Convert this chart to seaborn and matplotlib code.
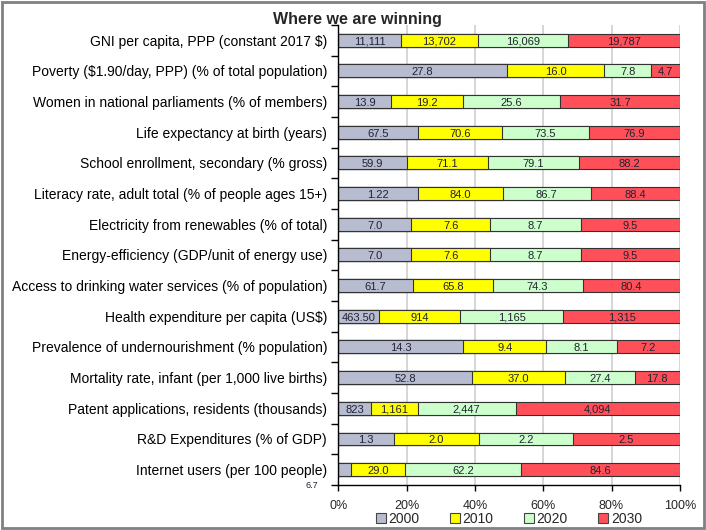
# Import required libraries
import pandas as pd
import numpy as np
import matplotlib.pyplot as plt
import seaborn as sns
from matplotlib.patches import Patch, Rectangle

# ---------------------------------------------------
# Data
# ---------------------------------------------------
categories = [
    "GNI per capita, PPP (constant 2017 $)",
    "Poverty ($1.90/day, PPP) (% of total population)",
    "Women in national parliaments (% of members)",
    "Life expectancy at birth (years)",
    "School enrollment, secondary (% gross)",
    "Literacy rate, adult total (% of people ages 15+)",
    "Electricity from renewables (% of total)",
    "Energy-efficiency (GDP/unit of energy use)",
    "Access to drinking water services (% of population)",
    "Health expenditure per capita (US$)",
    "Prevalence of undernourishment (% population)",
    "Mortality rate, infant (per 1,000 live births)",
    "Patent applications, residents (thousands)",
    "R&D Expenditures (% of GDP)",
    "Internet users (per 100 people)",
]
years = ["2000", "2010", "2020", "2030"]

v2000 = [11111, 27.8, 13.9, 67.5, 59.9, 79.2, 7.0, 7.0, 61.7, 463.5, 14.3, 52.8, 823, 1.3, 6.7]
v2010 = [13702, 16.0, 19.2, 70.6, 71.1, 84.0, 7.6, 7.6, 65.8, 914, 9.4, 37.0, 1161, 2.0, 29.0]
v2020 = [16069, 7.8, 25.6, 73.5, 79.1, 86.7, 8.7, 8.7, 74.3, 1165, 8.1, 27.4, 2447, 2.2, 62.2]
v2030 = [19787, 4.7, 31.7, 76.9, 88.2, 88.4, 9.5, 9.5, 80.4, 1315, 7.2, 17.8, 4094, 2.5, 84.6]

# labels as printed on the bars
l2000 = ["11,111", "27.8", "13.9", "67.5", "59.9", "1.22", "7.0", "7.0", "61.7", "463.50",
         "14.3", "52.8", "823", "1.3", "6.7"]
l2010 = ["13,702", "16.0", "19.2", "70.6", "71.1", "84.0", "7.6", "7.6", "65.8", "914",
         "9.4", "37.0", "1,161", "2.0", "29.0"]
l2020 = ["16,069", "7.8", "25.6", "73.5", "79.1", "86.7", "8.7", "8.7", "74.3", "1,165",
         "8.1", "27.4", "2,447", "2.2", "62.2"]
l2030 = ["19,787", "4.7", "31.7", "76.9", "88.2", "88.4", "9.5", "9.5", "80.4", "1,315",
         "7.2", "17.8", "4,094", "2.5", "84.6"]

colors = ["#B8BCD0", "#FFFF00", "#CCFFCC", "#FF5059"]

# ---------------------------------------------------
# Build 100% stacked table
# ---------------------------------------------------
df = pd.DataFrame({"2000": v2000, "2010": v2010, "2020": v2020, "2030": v2030},
                  index=categories)
pct = df.div(df.sum(axis=1), axis=0) * 100
cum = pct.cumsum(axis=1)
labels = pd.DataFrame({"2000": l2000, "2010": l2010, "2020": l2020, "2030": l2030},
                      index=categories)

# ---------------------------------------------------
# Plot
# ---------------------------------------------------
sns.set_theme(style="white")
plt.rcParams["font.family"] = ["Liberation Sans", "DejaVu Sans"]

fig = plt.figure(figsize=(7.06, 5.30), dpi=100)
ax = fig.add_axes([0.479, 0.085, 0.484, 0.868])

# draw cumulative bars back to front so each segment shows
for year, col in reversed(list(zip(years, colors))):
    d = pd.DataFrame({"cat": categories, "val": cum[year].values})
    sns.barplot(data=d, x="val", y="cat", order=categories, color=col,
                edgecolor="#333333", linewidth=0.8, width=0.42,
                saturation=1, ax=ax)

# value labels centered in each segment
for i, cat in enumerate(categories):
    for year in years:
        w = pct.loc[cat, year]
        center = cum.loc[cat, year] - w / 2
        txt = labels.loc[cat, year]
        if w < 5:
            # too narrow: put it under the bar, left of the axis
            ax.annotate(txt, xy=(0, i), xytext=(-26, -16), textcoords="offset pixels",
                        ha="center", va="center", fontsize=6.5, color="#222233",
                        annotation_clip=False)
        else:
            ax.text(center, i + 0.05, txt, ha="center", va="center",
                    fontsize=8, color="#222233")

ax.set_xlim(0, 100)
ax.set_ylim(len(categories) - 0.5, -0.5)
ax.set_xticks([0, 20, 40, 60, 80, 100])
ax.set_xticklabels(["0%", "20%", "40%", "60%", "80%", "100%"], fontsize=9)
ax.set_yticks(range(len(categories)))
ax.set_yticklabels(categories, fontsize=10)
ax.set_yticks(np.arange(-0.5, len(categories), 1), minor=True)
ax.tick_params(axis="y", which="major", length=0, pad=8, colors="black")
ax.tick_params(axis="y", which="minor", length=5, width=1, color="black", left=True)
ax.tick_params(axis="x", length=4, width=1, color="black", bottom=True, pad=7)
ax.set_xlabel("")
ax.set_ylabel("")
ax.set_axisbelow(True)
ax.grid(axis="x", color="#D0D0D0", linewidth=1.2)
ax.grid(axis="y", visible=False)

for s in ["top", "right"]:
    ax.spines[s].set_visible(False)
for s in ["left", "bottom"]:
    ax.spines[s].set_color("black")
    ax.spines[s].set_linewidth(1)

# legend below the axis
handles = [Patch(facecolor=c, edgecolor="#444444", linewidth=0.8) for c in colors]
ax.legend(handles, years, loc="upper center", bbox_to_anchor=(0.5, -0.047),
          ncol=4, frameon=False, fontsize=10, handlelength=0.7, handleheight=0.7,
          handletextpad=0.2, columnspacing=2.2, borderaxespad=0)

# title and outer frame
fig.text(0.506, 0.963, "Where we are winning", ha="center", va="center",
         fontsize=11.5, fontweight="bold")
fig.patches.append(Rectangle((0.003, 0.004), 0.994, 0.992, transform=fig.transFigure,
                             fill=False, edgecolor="#808080", linewidth=2))

plt.savefig("out.png", dpi=100)
